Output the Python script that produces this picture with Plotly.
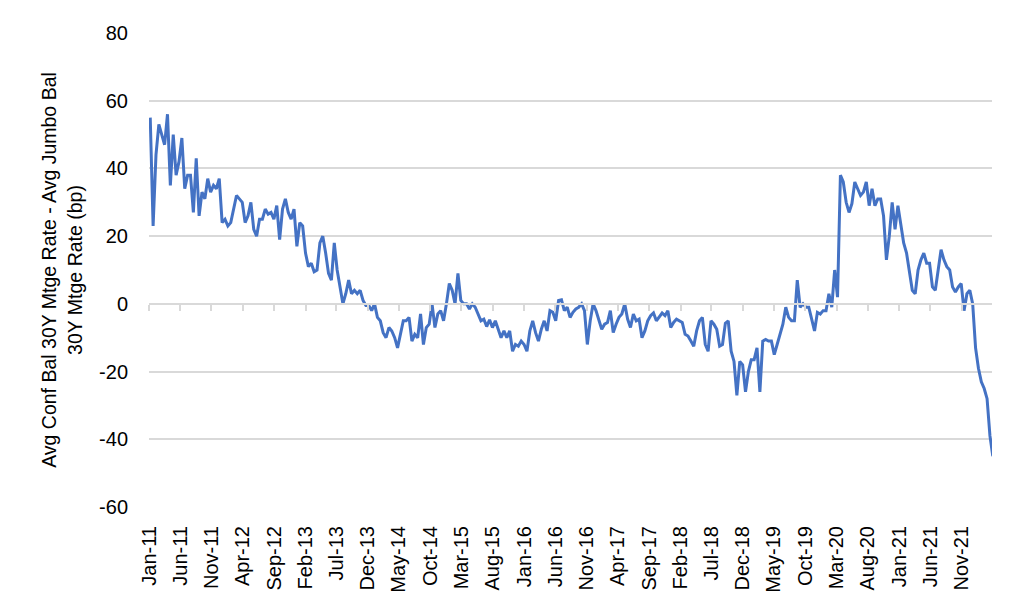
import pandas as pd
import plotly.graph_objects as go

# Bi-weekly observations starting 7 Jan 2011 (bp)
start_date = "2011-01-07"
step = "14D"
spread_bp = [
    # 2011 - early 2013
    55, 23, 44, 53, 50, 47, 56, 35, 50, 38, 42, 49, 34, 38, 38, 27, 43, 26, 33, 31,
    37, 33, 35, 34, 37, 24, 25, 23, 24, 28, 32, 31, 30, 24, 26, 30, 22, 20, 25, 25,
    28, 26.5, 27, 25, 29, 19, 28, 31,
    # 2013 - 2014
    27, 25, 28, 17, 24, 23, 15, 11, 12, 9.5, 10, 18, 20, 15, 9, 7, 18, 10, 5, 0,
    3, 7, 3, 4, 3, 4, 1, -0.5, -0.5, -2, 0, -4, -5, -8.5, -10, -7, -8, -10, -13, -8.5,
    -5, -5, -4, -11, -9, -10, -3, -12, -7, -6,
    # 2014 - 2016
    0, -7, -3, -2, -5, 0, 6, 4, 0, 9, 1, 0, 0, -1.5, 0, -1, -3, -5, -4.5, -6.7,
    -4.7, -7, -5, -7.5, -10, -8, -10, -8, -14, -12, -12.5, -11, -12, -14, -8, -5, -8.5, -11, -7.5, -5,
    -8, -2, -2.5, -5, 1, 1.2, -2, -1, -4,
    # 2016 - 2018
    -2.5, -1.5, -1, 0, -2, -12, -5, 0, -2, -5, -7.5, -6, -5.5, -2, -8.5, -6, -4, -3, 0, -4.5,
    -7, -3, -5, -4.5, -10, -8, -5, -3.5, -2.7, -5, -4, -2.7, -3.5, -2, -7, -5.5, -4.5, -5, -5.5, -9,
    -9.5, -11, -12.5, -8, -5, -4, -12, -14,
    # 2018 - 2020
    -5, -6, -7.5, -12.5, -12, -5.7, -5, -14, -17, -27, -17, -18, -26, -20, -16.5, -16.5, -13, -26, -11, -10.5,
    -11, -11, -15, -12, -9, -6, -1, -4, -5, -5, 7, -1, 0, -1, -1, -5, -8, -2.5, -3, -2,
    -2, 3, -1, 10, 2, 38, 36, 30, 27,
    # 2020 - 2022
    29.6, 36, 34, 32, 33, 36, 29, 34, 29, 31, 31, 26, 13, 20, 30, 22, 29, 24, 18, 15,
    9, 4, 3, 10, 13, 15, 12, 12, 5, 4, 10, 16, 13, 11, 10, 5, 3.5, 5, 6, -2,
    3, 4, 0, -13, -19, -23, -25, -28, -39, -45,
]
dates = pd.date_range(start_date, periods=len(spread_bp), freq=step)

tick_labels = [
    "Jan-11", "Jun-11", "Nov-11", "Apr-12", "Sep-12", "Feb-13", "Jul-13", "Dec-13", "May-14",
    "Oct-14", "Mar-15", "Aug-15", "Jan-16", "Jun-16", "Nov-16", "Apr-17", "Sep-17", "Feb-18",
    "Jul-18", "Dec-18", "May-19", "Oct-19", "Mar-20", "Aug-20", "Jan-21", "Jun-21", "Nov-21",
]
tick_vals = [pd.to_datetime(t, format="%b-%y") for t in tick_labels]
y_ticks = [80, 60, 40, 20, 0, -20, -40, -60]
y_tick_labels = ["80", "60", "40", "20", "0", "-20", "-40", "-60"]

x_range = ["2011-01-01", "2022-03-28"]
y_range = [-60, 80]
font_family = "Liberation Sans, Arial, sans-serif"
grid_color = "#d9d9d9"

fig = go.Figure()
fig.add_trace(go.Scatter(
    x=dates, y=spread_bp, mode="lines",
    line=dict(color="#4472C4", width=3),
    showlegend=False, xaxis="x", yaxis="y",
))
# helper (empty) trace so that the zero-crossing axis with tick marks is drawn
fig.add_trace(go.Scatter(x=[dates[0]], y=[None], mode="lines",
                         showlegend=False, xaxis="x2", yaxis="y", hoverinfo="skip"))

fig.update_layout(
    width=1024, height=615,
    paper_bgcolor="white", plot_bgcolor="white",
    margin=dict(l=141, r=40, t=25, b=116),
    font=dict(family=font_family, size=20, color="#000000"),
    xaxis=dict(
        type="date", range=x_range,
        tickvals=tick_vals, ticktext=tick_labels, tickangle=-90,
        showgrid=False, showline=False, zeroline=False, ticks="",
        ticklabelstandoff=14,
        tickfont=dict(size=20, color="#000000"),
    ),
    xaxis2=dict(
        type="date", range=x_range, matches="x", overlaying="x",
        anchor="free", position=(0 - y_range[0]) / (y_range[1] - y_range[0]),
        tickvals=tick_vals, showticklabels=False,
        ticks="outside", ticklen=6, tickwidth=1.5, tickcolor=grid_color,
        showline=True, linecolor=grid_color, linewidth=1.5,
        showgrid=False, zeroline=False,
    ),
    yaxis=dict(
        range=y_range, tickvals=y_ticks, ticktext=y_tick_labels,
        showgrid=True, gridcolor=grid_color, gridwidth=1.5,
        zeroline=False, showline=False, ticks="",
        ticklabelstandoff=20,
        tickfont=dict(size=20, color="#000000"),
        title=dict(
            text="Avg Conf Bal 30Y Mtge Rate - Avg Jumbo Bal<br>30Y Mtge Rate (bp)",
            font=dict(size=19.5, color="#000000"),
            standoff=11,
        ),
    ),
)

fig.write_html("out.html")
